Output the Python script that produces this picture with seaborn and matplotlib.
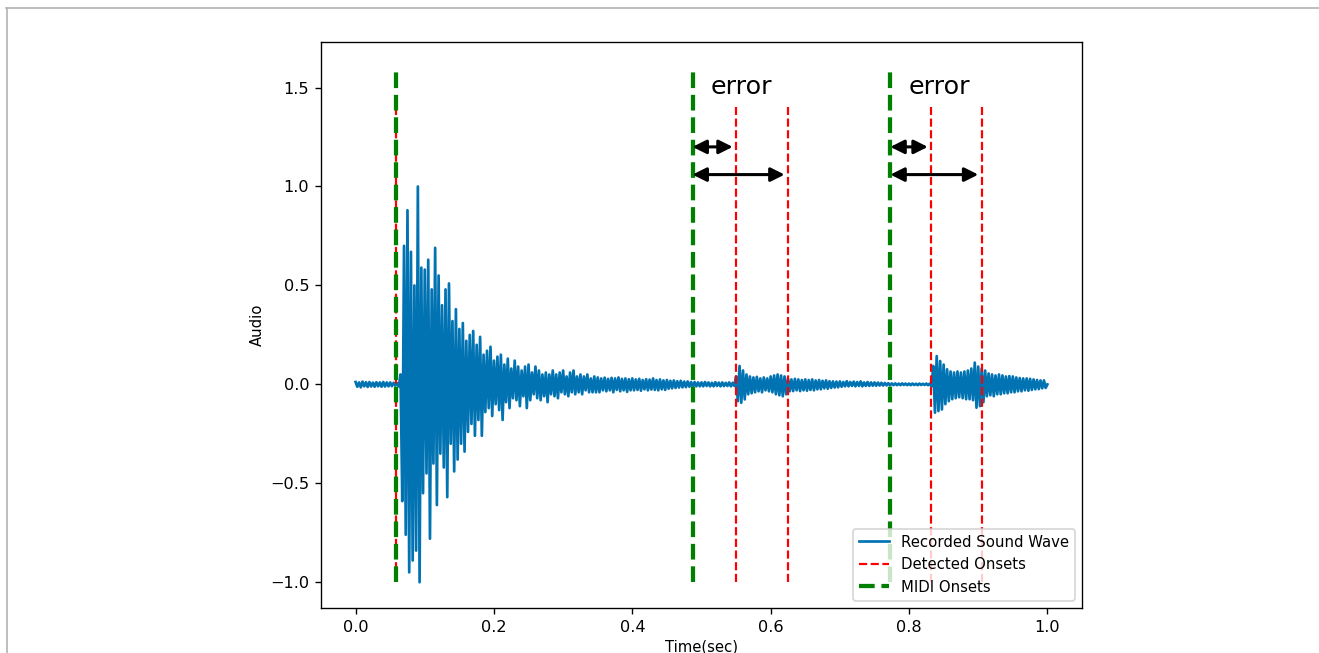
import matplotlib
matplotlib.use("Agg")
import matplotlib.pyplot as plt
from matplotlib.lines import Line2D
import numpy as np
import pandas as pd
import seaborn as sns

# Waveform envelope samples: one upper and one lower extreme per 5 ms bin
bin_step = 0.005
wave_hi = [
    0.012, 0.010, 0.014, 0.011, 0.012, 0.009, 0.011, 0.010, 0.012, 0.010,
    0.010, 0.008, 0.006, 0.05, 0.70, 0.88, 0.67, 0.50, 1.00, 0.59,
    0.58, 0.63, 0.48, 0.69, 0.55, 0.40, 0.48, 0.51, 0.32, 0.38,
    0.28, 0.31, 0.22, 0.25, 0.27, 0.20, 0.24, 0.15, 0.17, 0.19,
    0.12, 0.14, 0.15, 0.10, 0.13, 0.08, 0.12, 0.09, 0.07, 0.09,
    0.10, 0.06, 0.09, 0.07, 0.05, 0.06, 0.05, 0.07, 0.05, 0.06,
    0.07, 0.04, 0.06, 0.07, 0.04, 0.05, 0.04, 0.05, 0.03, 0.04,
    0.035, 0.03, 0.034, 0.028, 0.033, 0.03, 0.035, 0.028, 0.03, 0.026,
    0.03, 0.025, 0.028, 0.022, 0.026, 0.024, 0.03, 0.022, 0.025, 0.02,
    0.022, 0.018, 0.02, 0.016, 0.018, 0.014, 0.015, 0.012, 0.012, 0.01,
    0.010, 0.012, 0.010, 0.008, 0.011, 0.009, 0.010, 0.008, 0.010, 0.008,
    0.04, 0.093, 0.07, 0.05, 0.04, 0.035, 0.038, 0.03, 0.035, 0.03,
    0.04, 0.045, 0.05, 0.045, 0.04, 0.03, 0.025, 0.028, 0.025, 0.022,
    0.025, 0.022, 0.025, 0.02, 0.022, 0.018, 0.02, 0.016, 0.015, 0.014,
    0.015, 0.012, 0.016, 0.012, 0.014, 0.012, 0.015, 0.01, 0.012, 0.01,
    0.01, 0.009, 0.008, 0.007, 0.006, 0.005, 0.005, 0.004, 0.005, 0.004,
    0.004, 0.004, 0.003, 0.004, 0.003, 0.004, 0.004, 0.093, 0.143, 0.118,
    0.10, 0.076, 0.065, 0.06, 0.065, 0.06, 0.065, 0.07, 0.08, 0.11,
    0.09, 0.08, 0.07, 0.055, 0.05, 0.045, 0.05, 0.045, 0.04, 0.042,
    0.04, 0.035, 0.032, 0.03, 0.03, 0.028, 0.025, 0.022, 0.02, 0.02,
]
wave_lo = [
    -0.012, -0.015, -0.010, -0.013, -0.011, -0.012, -0.010, -0.012, -0.011, -0.010,
    -0.009, -0.006, -0.010, -0.59, -0.76, -0.95, -0.89, -0.84, -1.00, -0.55,
    -0.45, -0.78, -0.40, -0.61, -0.35, -0.42, -0.57, -0.30, -0.44, -0.38,
    -0.30, -0.34, -0.24, -0.20, -0.26, -0.18, -0.26, -0.14, -0.12, -0.16,
    -0.10, -0.13, -0.18, -0.09, -0.12, -0.07, -0.08, -0.11, -0.06, -0.12,
    -0.08, -0.05, -0.07, -0.08, -0.06, -0.09, -0.05, -0.06, -0.07, -0.04,
    -0.05, -0.06, -0.04, -0.05, -0.04, -0.05, -0.03, -0.04, -0.04, -0.04,
    -0.04, -0.03, -0.035, -0.03, -0.04, -0.028, -0.035, -0.03, -0.038, -0.03,
    -0.03, -0.028, -0.032, -0.025, -0.03, -0.026, -0.028, -0.03, -0.025, -0.028,
    -0.022, -0.02, -0.018, -0.016, -0.015, -0.014, -0.012, -0.012, -0.01, -0.01,
    -0.010, -0.008, -0.010, -0.010, -0.008, -0.010, -0.009, -0.008, -0.010, -0.008,
    -0.085, -0.093, -0.076, -0.05, -0.045, -0.04, -0.035, -0.04, -0.03, -0.035,
    -0.04, -0.05, -0.055, -0.06, -0.05, -0.035, -0.034, -0.03, -0.034, -0.03,
    -0.032, -0.028, -0.03, -0.025, -0.025, -0.02, -0.022, -0.018, -0.016, -0.015,
    -0.012, -0.01, -0.01, -0.008, -0.01, -0.008, -0.01, -0.008, -0.008, -0.007,
    -0.007, -0.006, -0.006, -0.005, -0.005, -0.004, -0.004, -0.004, -0.003, -0.004,
    -0.004, -0.003, -0.004, -0.003, -0.003, -0.004, -0.01, -0.143, -0.135, -0.127,
    -0.10, -0.085, -0.075, -0.07, -0.065, -0.07, -0.075, -0.075, -0.08, -0.118,
    -0.11, -0.09, -0.06, -0.055, -0.06, -0.05, -0.05, -0.045, -0.045, -0.04,
    -0.04, -0.035, -0.035, -0.03, -0.032, -0.028, -0.025, -0.024, -0.02, -0.018,
]

# Onset times (seconds)
midi_onsets = [0.058, 0.487, 0.773]
detected_onsets = [0.058, 0.550, 0.625, 0.832, 0.905]
midi_top, detected_top, line_bottom = 1.6, 1.4, -1.0

# Error arrows: (start, end, height)
arrow_start = [0.487, 0.487, 0.773, 0.773]
arrow_end = [0.550, 0.625, 0.832, 0.905]
arrow_y = [1.2, 1.06, 1.2, 1.06]

# "error" captions
error_x = [0.513, 0.799]
error_y = [1.468, 1.468]
error_text = ["error", "error"]

# Interleave upper/lower extremes into a single trace
times, values = [], []
for i, (h, l) in enumerate(zip(wave_hi, wave_lo)):
    times += [i * bin_step, i * bin_step + bin_step / 2]
    values += [h, l]
times.append(1.0)
values.append(0.0)
wave = pd.DataFrame({"Time(sec)": times, "Audio": values})

plt.rcParams["font.size"] = 8.8
plt.rcParams["xtick.labelsize"] = 9.5
plt.rcParams["ytick.labelsize"] = 9.5

DPI = 122
fig = plt.figure(figsize=(1319 / DPI, 653 / DPI), dpi=DPI)
ax = fig.add_axes([321 / 1319, 1 - 608 / 653, (1082 - 321) / 1319, (608 - 42) / 653])

sns.lineplot(data=wave, x="Time(sec)", y="Audio", ax=ax, color="#0173b2",
             lw=1.6, sort=False, estimator=None, label="Recorded Sound Wave")
ax.vlines(detected_onsets, line_bottom, detected_top, colors="red",
          linestyles="dashed", lw=1.3, label="Detected Onsets")
ax.vlines(midi_onsets, line_bottom, midi_top, colors="green",
          linestyles="dashed", lw=2.5, label="MIDI Onsets")

for s, e, y in zip(arrow_start, arrow_end, arrow_y):
    ax.annotate("", xy=(e, y), xytext=(s, y),
                arrowprops=dict(arrowstyle="<|-|>", color="black", lw=1.8,
                                mutation_scale=17, shrinkA=0, shrinkB=2))
for x, y, txt in zip(error_x, error_y, error_text):
    ax.text(x, y, txt, fontsize=15, ha="left", va="baseline")

ax.set_xlim(-0.05, 1.05)
ax.set_ylim(-1.13, 1.73)
ax.set_xlabel("Time(sec)", labelpad=3)
ax.set_ylabel("Audio", labelpad=3)
ax.legend(loc="lower right")

# page frame lines
fig.add_artist(Line2D([6 / 1319, 1], [1 - 7.5 / 653, 1 - 7.5 / 653],
                      transform=fig.transFigure, color="#b4b4b4", lw=1.0))
fig.add_artist(Line2D([6.5 / 1319, 6.5 / 1319], [0, 1 - 7.5 / 653],
                      transform=fig.transFigure, color="#b4b4b4", lw=1.0))

fig.savefig("out.png", dpi=DPI)
